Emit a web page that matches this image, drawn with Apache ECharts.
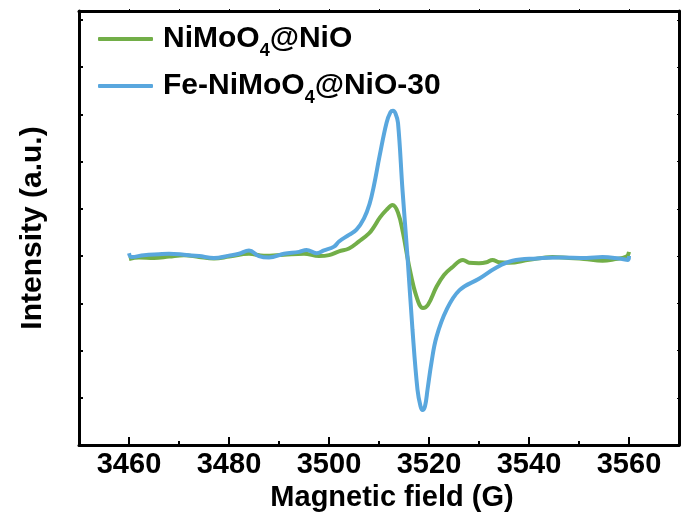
<!DOCTYPE html>
<html>
<head>
<meta charset="utf-8">
<script src="https://cdn.jsdelivr.net/npm/echarts@6/dist/echarts.min.js"></script>
<style>html,body{margin:0;padding:0;background:#fff}#c{width:682px;height:520px}</style>
</head>
<body>
<div id="c"></div>
<script>
var seriesNames = ['NiMoO4@NiO', 'Fe-NiMoO4@NiO-30'];
var xTickLabels = [3460, 3480, 3500, 3520, 3540, 3560];
var xMinorTicks = [3470, 3490, 3510, 3530, 3550];

var greenX = [3460, 3462, 3465, 3468, 3471, 3474, 3477, 3480, 3484, 3487, 3491, 3495, 3498, 3500, 3502, 3504, 3506, 3508, 3509, 3510.2, 3511.5, 3512.7, 3513.8, 3514.8, 3516, 3517.5, 3518.8, 3519.8, 3521.5, 3523, 3524.5, 3526.8, 3528, 3530, 3531.5, 3532.7, 3534, 3536, 3540, 3544.7, 3548, 3551, 3554.7, 3557, 3559.5, 3560];
var greenY = [3.94, 3.97, 3.96, 3.99, 4.02, 3.98, 3.95, 3.99, 4.05, 4.01, 4.03, 4.05, 4.00, 4.02, 4.10, 4.16, 4.31, 4.48, 4.62, 4.82, 4.98, 5.08, 4.92, 4.49, 3.80, 3.14, 2.90, 2.97, 3.35, 3.60, 3.75, 3.92, 3.86, 3.85, 3.87, 3.92, 3.87, 3.86, 3.92, 3.98, 3.96, 3.94, 3.90, 3.93, 3.99, 4.09];

var blueX = [3460, 3460.5, 3463, 3466, 3468, 3471, 3474, 3477, 3480, 3482, 3484, 3486, 3488, 3491, 3494, 3495.5, 3497.5, 3499, 3501, 3502, 3504, 3505.5, 3507, 3508.1, 3509, 3510.1, 3511.5, 3512.3, 3512.8, 3513.3, 3513.8, 3514.7, 3515.7, 3516.7, 3517.7, 3518.3, 3518.7, 3519.2, 3519.7, 3520.5, 3521.5, 3523.5, 3526.1, 3530, 3533.5, 3536.7, 3541.5, 3546, 3551.5, 3554.7, 3558, 3559.8, 3560];
var blueY = [4.06, 3.98, 4.02, 4.04, 4.05, 4.03, 4.00, 3.96, 4.01, 4.05, 4.12, 4.00, 3.97, 4.05, 4.09, 4.13, 4.06, 4.12, 4.20, 4.31, 4.45, 4.56, 4.80, 5.10, 5.50, 6.11, 6.82, 7.05, 7.08, 7.02, 6.82, 5.40, 3.99, 2.44, 1.17, 0.82, 0.74, 0.82, 1.17, 1.75, 2.29, 2.86, 3.28, 3.52, 3.76, 3.90, 3.95, 3.97, 3.96, 3.98, 3.95, 3.92, 4.00];

function pairs(xs, ys) { return xs.map(function (x, i) { return [x, ys[i]]; }); }

var FONT = "'Liberation Sans', Arial, sans-serif";
var chart = echarts.init(document.getElementById('c'), null, { renderer: 'canvas' });
chart.setOption({
  animation: false,
  backgroundColor: '#fff',
  grid: { left: 79, top: 11, width: 600, height: 434, outerBoundsMode: 'none', containLabel: false },
  legend: {
    orient: 'vertical', left: 93, top: 19, itemGap: 11,
    itemWidth: 55, itemHeight: 4, icon: 'roundRect',
    data: seriesNames,
    formatter: function (n) { return '{g|}{a|' + n.replace('O4@', 'O}{s|4}{a|@') + '}'; },
    textStyle: {
      rich: {
        g: { width: 5 },
        a: { fontFamily: FONT, fontWeight: 'bold', fontSize: 30, lineHeight: 30, color: '#000', verticalAlign: 'top' },
        s: { fontFamily: FONT, fontWeight: 'bold', fontSize: 18, lineHeight: 20, padding: [18, 0, 0, 0], color: '#000', verticalAlign: 'top' }
      }
    }
  },
  xAxis: [
    {
      type: 'value', min: 3450, max: 3570, position: 'bottom',
      name: 'Magnetic field (G)', nameLocation: 'middle', nameGap: 36,
      nameTextStyle: { fontFamily: FONT, fontWeight: 'bold', fontSize: 29, color: '#000', padding: [0, 0, 0, 26] },
      axisLine: { show: true, lineStyle: { color: '#000', width: 3 } },
      axisTick: { show: true, inside: true, length: 8, lineStyle: { color: '#000', width: 2 }, customValues: xTickLabels },
      axisLabel: { show: true, margin: 5, fontFamily: FONT, fontWeight: 'bold', fontSize: 29, color: '#000', customValues: xTickLabels,
        formatter: function (v) { return String(v); } },
      splitLine: { show: false }
    },
    {
      type: 'value', min: 3450, max: 3570, position: 'bottom',
      axisLine: { show: false },
      axisTick: { show: true, inside: true, length: 4, lineStyle: { color: '#000', width: 2 }, customValues: xMinorTicks },
      axisLabel: { show: false },
      splitLine: { show: false }
    },
    {
      type: 'value', min: 3450, max: 3570, position: 'top',
      axisLine: { show: true, lineStyle: { color: '#000', width: 3 } },
      axisTick: { show: true, inside: false, length: 2, lineStyle: { color: '#000', width: 1 }, customValues: xTickLabels.concat(xMinorTicks) },
      axisLabel: { show: false },
      splitLine: { show: false }
    }
  ],
  yAxis: [
    {
      type: 'value', min: 0, max: 9.19, interval: 1, position: 'left',
      name: 'Intensity (a.u.)', nameLocation: 'middle', nameGap: 31,
      nameTextStyle: { fontFamily: FONT, fontWeight: 'bold', fontSize: 30, color: '#000' },
      axisLine: { show: true, lineStyle: { color: '#000', width: 3 } },
      axisTick: { show: true, inside: true, length: 4, lineStyle: { color: '#000', width: 2 } },
      axisLabel: { show: false },
      splitLine: { show: false }
    },
    {
      type: 'value', min: 0, max: 9.19, interval: 1, position: 'right',
      axisLine: { show: true, lineStyle: { color: '#000', width: 3 } },
      axisTick: { show: true, inside: true, length: 2, lineStyle: { color: '#000', width: 1 } },
      axisLabel: { show: false },
      splitLine: { show: false }
    }
  ],
  series: [
    {
      name: seriesNames[0], type: 'line', xAxisIndex: 0, yAxisIndex: 0,
      data: pairs(greenX, greenY), showSymbol: false, symbol: 'none',
      smooth: 0.4,
      lineStyle: { color: '#72ae48', width: 4 }, itemStyle: { color: '#72ae48' }
    },
    {
      name: seriesNames[1], type: 'line', xAxisIndex: 0, yAxisIndex: 0,
      data: pairs(blueX, blueY), showSymbol: false, symbol: 'none',
      smooth: 0.4,
      lineStyle: { color: '#59a7de', width: 4 }, itemStyle: { color: '#59a7de' }
    }
  ]
});
</script>
</body>
</html>
